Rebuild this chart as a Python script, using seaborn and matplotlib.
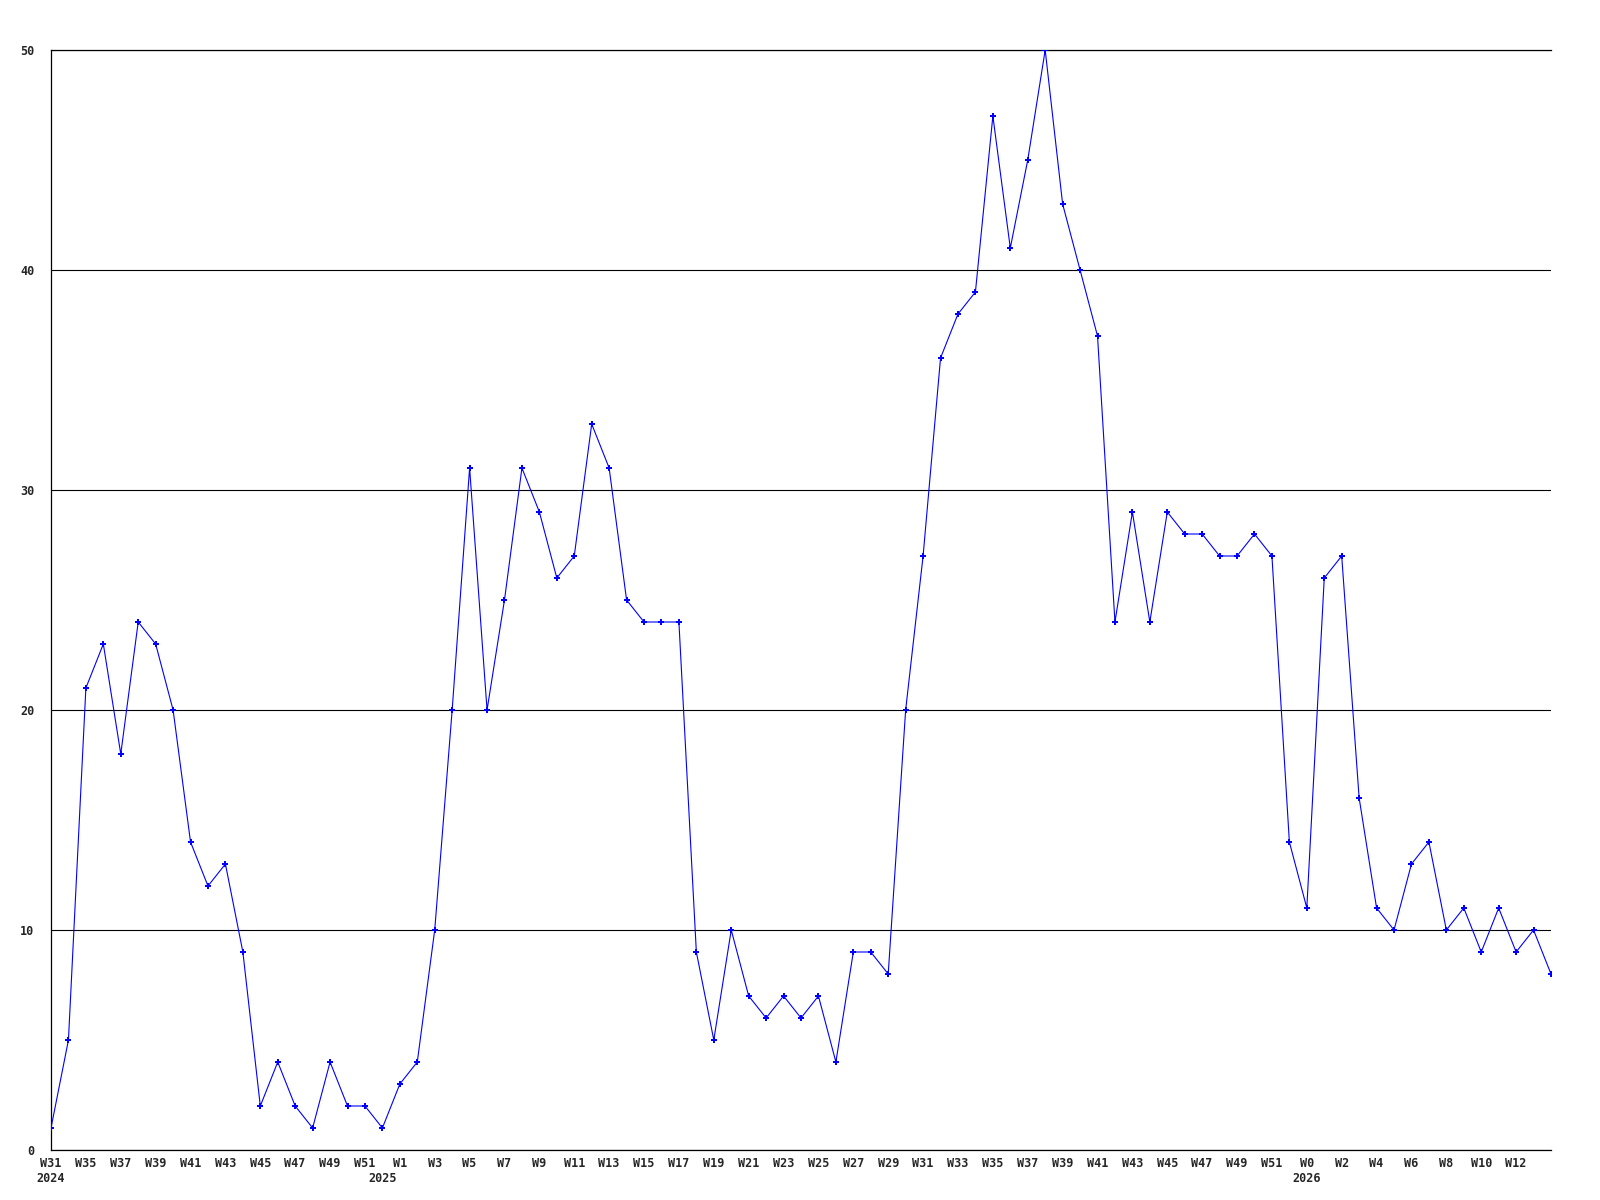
import pandas as pd
import matplotlib
matplotlib.use("Agg")
import matplotlib.pyplot as plt
import seaborn as sns

# weekly counts, one per week shown on the axis
counts = [1, 5, 21, 23, 18, 24, 23, 20, 14, 12, 13, 9, 2, 4, 2, 1, 4, 2, 2, 1,
          3, 4, 10, 20, 31, 20, 25, 31, 29, 26, 27, 33, 31, 25, 24, 24, 24, 9, 5, 10,
          7, 6, 7, 6, 7, 4, 9, 9, 8, 20, 27, 36, 38, 39, 47, 41, 45, 50, 43, 40,
          37, 24, 29, 24, 29, 28, 28, 27, 27, 28, 27, 14, 11, 26, 27, 16, 11, 10, 13, 14,
          10, 11, 9, 11, 9, 10, 8]

# labelled ticks (every second week)
tick_pos = [0, 2, 4, 6, 8, 10, 12, 14, 16, 18, 20, 22, 24, 26, 28, 30, 32, 34, 36, 38,
            40, 42, 44, 46, 48, 50, 52, 54, 56, 58, 60, 62, 64, 66, 68, 70, 72, 74, 76, 78,
            80, 82, 84]
tick_labels = ["W31", "W35", "W37", "W39", "W41", "W43", "W45", "W47", "W49", "W51",
               "W1", "W3", "W5", "W7", "W9", "W11", "W13", "W15", "W17", "W19",
               "W21", "W23", "W25", "W27", "W29", "W31", "W33", "W35", "W37", "W39",
               "W41", "W43", "W45", "W47", "W49", "W51", "W0", "W2", "W4", "W6",
               "W8", "W10", "W12"]

year_pos = [0, 19, 72]
year_labels = ["2024", "2025", "2026"]

df = pd.DataFrame({"idx": range(len(counts)), "count": counts})

sns.set_style("white")
plt.rcParams["font.family"] = ["DejaVu Sans Mono"]
plt.rcParams["font.weight"] = "bold"

fig = plt.figure(figsize=(16, 12), dpi=100)
ax = fig.add_axes([51 / 1600, 50 / 1200, 1500 / 1600, 1100 / 1200])

sns.lineplot(data=df, x="idx", y="count", ax=ax, color="#0000ff", linewidth=0.8,
             marker="P", markersize=4, markeredgewidth=0, zorder=3)

ax.set_xlim(0, len(counts) - 1)
ax.set_ylim(0, 50)
ax.set_yticks([0, 10, 20, 30, 40, 50])
ax.set_xticks(tick_pos)
ax.set_xticklabels(tick_labels)
ax.tick_params(axis="x", length=0, pad=5, labelsize=8.5)
ax.tick_params(axis="y", length=0, pad=12, labelsize=8.5)
for lab in ax.get_xticklabels() + ax.get_yticklabels():
    lab.set_fontweight("bold")

ax.grid(axis="y", color="black", linewidth=0.8)
ax.grid(axis="x", visible=False)
for side in ["left", "bottom", "top"]:
    ax.spines[side].set_color("black")
    ax.spines[side].set_linewidth(0.9)
ax.spines["right"].set_visible(False)
ax.set_xlabel("")
ax.set_ylabel("")

for xp, yl in zip(year_pos, year_labels):
    ax.annotate(yl, xy=(xp, 0), xycoords=("data", "axes fraction"),
                xytext=(0, -16), textcoords="offset points",
                ha="center", va="top", fontsize=8.5, fontweight="bold",
                annotation_clip=False)

fig.savefig("out.png", dpi=100)
